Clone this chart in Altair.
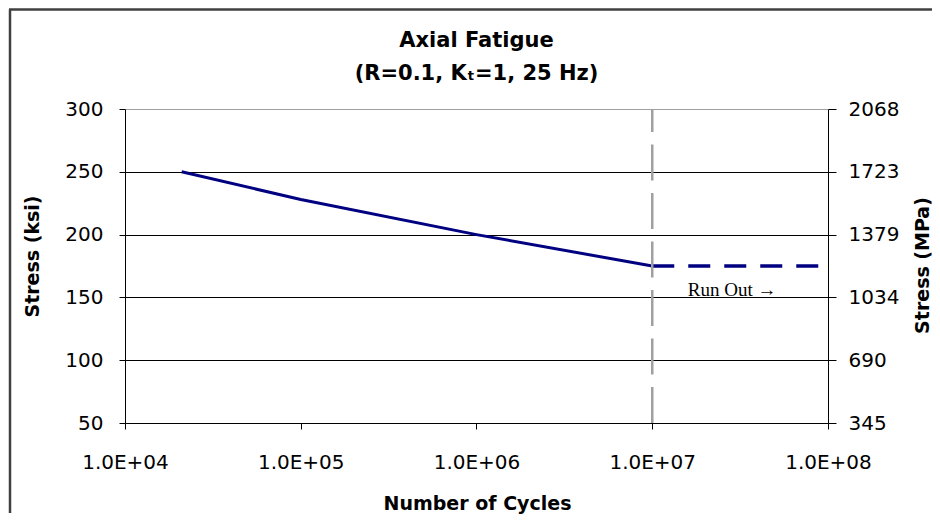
import altair as alt
import pandas as pd

# ---- data ----
cycles = [2.1e4, 1.0e5, 1.0e6, 1.0e7]
stress_ksi = [250, 228, 200, 175]

runout_cycles = [1.0e7, 8.8e7]
runout_stress = [175, 175]

endurance_cycles = [1.0e7]
endurance_lo = [50]
endurance_hi = [300]

note_cycles = [2.85e7]
note_stress = [156]
note_text = ["Run Out \u2192"]

x_ticks = [1e4, 1e5, 1e6, 1e7, 1e8]
ksi_ticks = [50, 100, 150, 200, 250, 300]
mpa_labels = ["345", "690", "1034", "1379", "1723", "2068"]

title_lines = ["Axial Fatigue", "(R=0.1, K\u209c=1, 25 Hz)"]

# ---- tables ----
line_df = pd.DataFrame({"cycles": cycles, "stress": stress_ksi})
run_df = pd.DataFrame({"cycles": runout_cycles, "stress": runout_stress})
vline_df = pd.DataFrame({"cycles": endurance_cycles, "lo": endurance_lo, "hi": endurance_hi})
note_df = pd.DataFrame({"cycles": note_cycles, "stress": note_stress, "label": note_text})

mpa_expr = " : ".join(
    f"datum.value == {k} ? '{m}'" for k, m in zip(ksi_ticks, mpa_labels)
) + " : ''"

xscale = alt.Scale(type="log", domain=[1e4, 1e8])
yscale = alt.Scale(domain=[50, 300], zero=False, nice=False)

x_axis = alt.Axis(
    values=x_ticks,
    labelExpr="'1.0E+0' + round(log(datum.value) / LN10)",
    title="Number of Cycles",
    grid=False,
    tickSize=6,
    labelPadding=23,
    labelFlush=False,
    labelOverlap=False,
    titleX=352,
    titleY=86,
    titleAlign="center",
    titleBaseline="alphabetic",
)

left_axis = alt.Axis(
    values=ksi_ticks,
    title="Stress (ksi)",
    grid=True,
    gridColor={"condition": {"test": "datum.value >= 300", "value": "#a0a0a0"}, "value": "#000000"},
    gridWidth=1,
    tickSize=6,
    labelPadding=16,
    labelOverlap=False,
    titleAngle=270,
    titleX=-93,
    titleY=147,
    titleAlign="center",
    titleBaseline="middle",
)

right_axis = alt.Axis(
    orient="right",
    values=ksi_ticks,
    labelExpr=mpa_expr,
    title="Stress (MPa)",
    grid=False,
    tickSize=8,
    labelPadding=12,
    labelOverlap=False,
    titleAngle=270,
    titleX=94,
    titleY=156,
    titleAlign="center",
    titleBaseline="middle",
)

x_enc = alt.X("cycles:Q", scale=xscale, axis=x_axis)

main_line = alt.Chart(line_df).mark_line(color="#000080", strokeWidth=3).encode(
    x=x_enc,
    y=alt.Y("stress:Q", scale=yscale, axis=left_axis),
)

runout = alt.Chart(run_df).mark_line(
    color="#000080", strokeWidth=3.5, strokeDash=[22, 14]
).encode(
    x=x_enc,
    y=alt.Y("stress:Q", scale=yscale, axis=None),
)

vline = alt.Chart(vline_df).mark_rule(
    color="#a0a0a0", strokeWidth=2.5, strokeDash=[36, 12.5]
).encode(
    x=x_enc,
    y=alt.Y("lo:Q", scale=yscale, axis=right_axis),
    y2="hi:Q",
)

note = alt.Chart(note_df).mark_text(
    font="Liberation Serif", fontSize=19, color="black", align="center", baseline="middle"
).encode(
    x=x_enc,
    y=alt.Y("stress:Q", scale=yscale, axis=None),
    text="label:N",
)

border_src = alt.Data(values=[{"k": 1}])
border_left = alt.Chart(border_src).mark_rule(color="#404040", strokeWidth=2.5).encode(
    x=alt.value(-115), y=alt.value(-99.5), y2=alt.value(404)
)
border_top = alt.Chart(border_src).mark_rule(color="#404040", strokeWidth=2.5).encode(
    x=alt.value(-116), x2=alt.value(814), y=alt.value(-99.5)
)

chart = (
    alt.layer(main_line, runout, vline, note, border_left, border_top)
    .resolve_scale(y="independent")
    .properties(
        width=703,
        height=314,
        autosize=alt.AutoSizeParams(type="none"),
        padding={"left": 117, "top": 101, "right": 104, "bottom": 91},
        title=alt.TitleParams(
            text=title_lines,
            font="DejaVu Sans",
            fontSize=21,
            fontWeight="bold",
            lineHeight=33,
            anchor="middle",
            frame="group",
            baseline="bottom",
            offset=0,
            dy=97,
            color="black",
        ),
    )
    .configure_view(stroke="transparent")
    .configure_axis(
        labelFont="DejaVu Sans",
        labelFontSize=20,
        labelColor="black",
        titleFont="DejaVu Sans",
        titleFontSize=19,
        titleFontWeight="bold",
        titleColor="black",
        domainColor="black",
        domainWidth=1,
        tickColor="black",
        tickWidth=1,
    )
)

chart.save("out.html", embed_options={"renderer": "svg", "actions": False})
